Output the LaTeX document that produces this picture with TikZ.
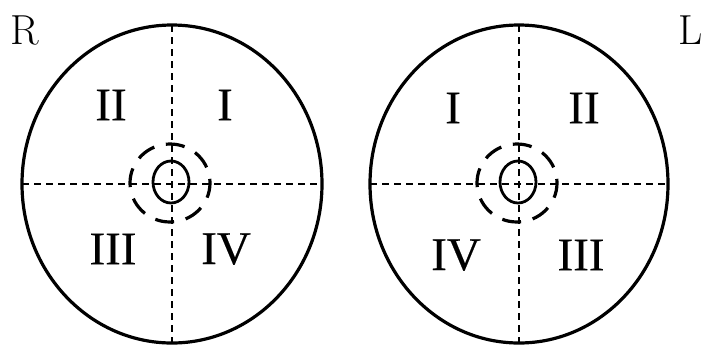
\documentclass[tikz,border=0pt]{standalone}
\usepackage{fontspec}
\newfontfamily\numfont[FakeBold=0.3]{Liberation Serif}
\begin{document}
\begin{tikzpicture}[x=1pt,y=-1pt,
  eye/.style={line width=3.2pt},
  axis/.style={line width=2pt,dash pattern=on 7pt off 5pt},
  ring/.style={line width=3.2pt,dash pattern=on 19pt off 12pt},
  disc/.style={line width=2.8pt},
  quad/.style={font=\numfont\fontsize{47}{47}\selectfont,inner sep=0pt},
  side/.style={font=\fontsize{42}{42}\selectfont,inner sep=0pt}]
\useasboundingbox (0,0) rectangle (711,349);
% left eye
\draw[eye] (172,184) ellipse [x radius=150, y radius=159];
\draw[axis] (22,184) -- (322,184);
\draw[axis] (172,25) -- (172,343);
\draw[disc] (171,182) ellipse [x radius=18, y radius=21];
\draw[ring,dash phase=4pt] (170,183) ellipse [x radius=40, y radius=39];
\node[quad] (lII) at (111,105) {II};
\node[quad] (lI) at (225,105) {I};
\node[quad] (lIII) at (113,249) {III};
\node[quad] (lIV) at (226,249) {IV};
\node[side] (R) at (25,30) {R};
% right eye
\draw[eye] (519,184) ellipse [x radius=149, y radius=159];
\draw[axis] (370,184) -- (668,184);
\draw[axis] (519,25) -- (519,343);
\draw[disc] (518,182) ellipse [x radius=18, y radius=21];
\draw[ring,dash phase=4pt] (517,183) ellipse [x radius=40, y radius=39];
\node[quad] (rI) at (453,108) {I};
\node[quad] (rII) at (584,108) {II};
\node[quad] (rIV) at (456,255) {IV};
\node[quad] (rIII) at (581,255) {III};
\node[side] (L) at (691,30) {L};
\end{tikzpicture}
\end{document}
